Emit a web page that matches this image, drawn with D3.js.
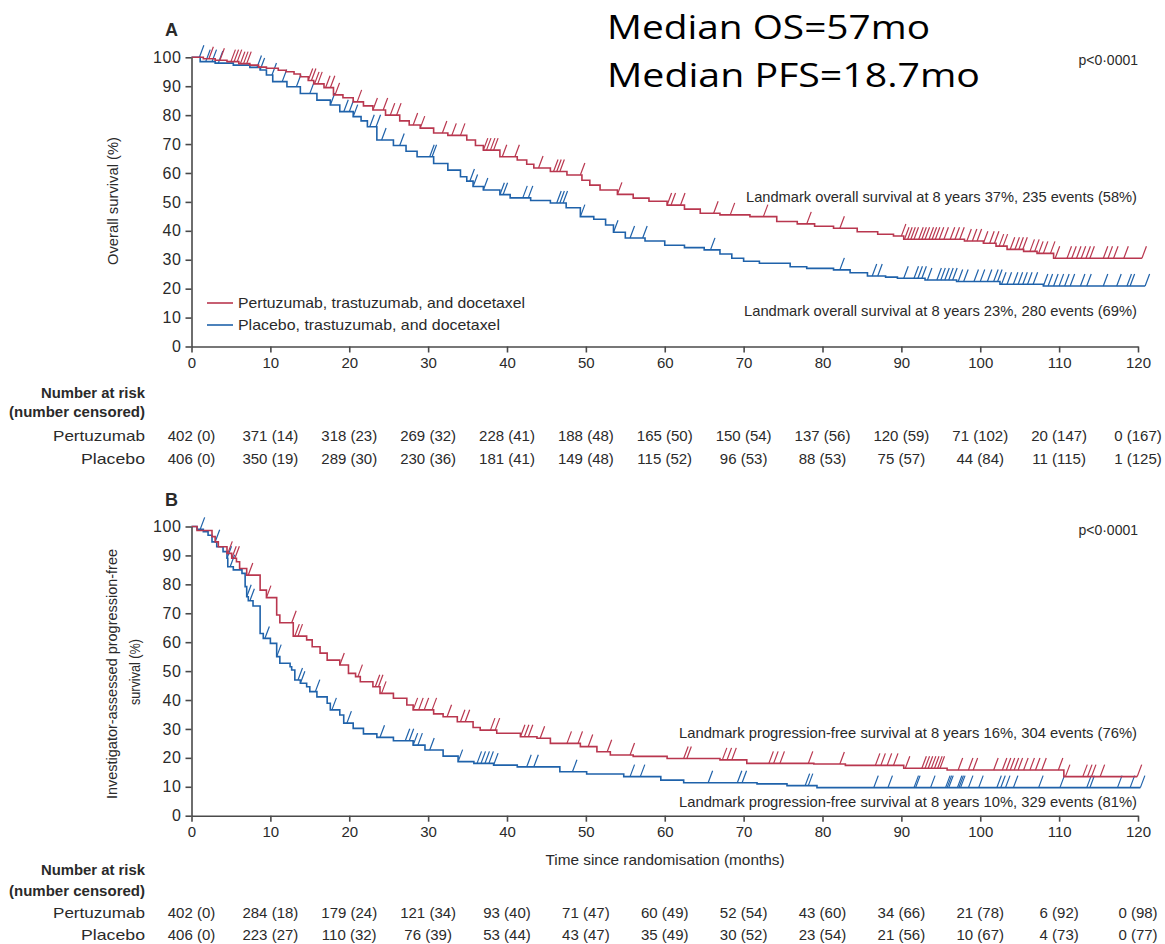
<!DOCTYPE html>
<html>
<head>
<meta charset="utf-8">
<script src="https://cdn.jsdelivr.net/npm/d3@7/dist/d3.min.js"></script>
<style>
  html, body { margin: 0; padding: 0; background: #fff; }
  svg { display: block; }
</style>
</head>
<body>
<svg id="chart" width="1165" height="944"></svg>
<script>
// ---- Data -------------------------------------------------------------
// Kaplan-Meier steps: [month, survival %] (value holds until the next step)
const osPertuzumab = [[0,100],[1.5,99.5],[3,99],[4.5,98.5],[6,97.8],[7.4,97.3],[8.5,96.6],[9.5,96.2],[11,95.5],[12,95],[13,94.2],[13.8,93.3],[14.8,92],[15.5,90.8],[16.8,89.5],[18,87],[19.2,86],[20.5,84.6],[21.8,83.2],[23,81.8],[24.6,80],[26.4,78],[27.6,76.6],[29,75.5],[30.7,73.8],[32.5,73],[34.9,71.4],[36,69.5],[37,67.9],[39.1,65.6],[41.3,64.5],[42.5,63],[43.4,61.7],[45.5,60.5],[47.6,59.3],[49.5,57.5],[50.5,55.8],[51.8,54.1],[54,52.6],[56,51.3],[58,50.2],[60.3,48.9],[62.5,47.5],[64.5,46.1],[67,45.5],[70.8,44.9],[74.2,43.2],[76.8,42.4],[79,41.6],[81.4,40.9],[84.4,39.7],[87,38.8],[89,38.2],[90.3,37.1],[98,36.5],[100.4,35.7],[102,34.7],[103.4,33.6],[105.5,32.9],[107.2,32.2],[109.3,30.5]];
const osPlacebo = [[0,100],[1.1,98.5],[3,98],[5.3,97.3],[7.4,96.5],[8.7,95.6],[9.5,93.9],[10.3,91.6],[12.1,89.8],[13.8,87.5],[15.9,85.2],[17.6,83.5],[18.8,81.2],[20.5,79.5],[21.5,78],[22.3,76],[23.5,71.4],[25.6,69.5],[27.2,67.5],[28.6,65.6],[30.7,63.3],[32.5,61],[34.1,58.7],[34.9,57.2],[35.7,55.3],[37,54.1],[39.1,52.5],[40.4,51.4],[43,50.5],[45.5,49.6],[47.5,48],[49.3,44.9],[51,44],[52.5,42],[53.5,39.5],[55,37.5],[57.5,36.5],[60,35],[62.5,34.2],[65,33.4],[67,32],[68.5,30.5],[70,29.5],[72,28.8],[75.9,27.6],[78,27],[81.4,26.5],[83.5,25.5],[85.7,24.4],[88,24],[89.5,23.6],[93,23],[97,22.5],[102.5,21.5],[108,20.9]];
const pfsPertuzumab = [[0,100],[0.7,98.6],[2.6,96.5],[3,94.7],[3.4,93],[4.5,90.7],[5.1,89],[5.7,87.8],[6.1,85.5],[7,83.2],[8.7,78],[9.5,75.4],[10.8,69.4],[11.2,66.7],[12.9,62.1],[14.6,60.8],[15.3,58.4],[16.3,56.2],[17.2,53.8],[18.8,52.1],[19.9,49.2],[20.8,48.1],[21.4,46.3],[23,44.6],[23.9,42.3],[25.6,40.6],[27.3,38.3],[28.1,36.6],[30.7,35.2],[31.9,34.2],[33.7,32.5],[35.7,30.5],[36.6,29.6],[38.7,28.5],[41.7,27.3],[43.8,26.8],[45.5,25],[49.3,23.9],[51.4,22.1],[53.1,21],[56,20.5],[60.3,19.8],[67,19.3],[70.4,18.1],[78.9,17.9],[82.9,17.4],[90.3,16.4],[95.8,15.8],[110.6,13.5]];
const pfsPlacebo = [[0,100],[0.7,99],[1.5,98.2],[2.1,97],[2.6,94.7],[3.2,93],[4,91.3],[4.5,89],[4.6,86.1],[5.3,85],[6.4,83.8],[6.8,79.2],[7,75.7],[7.2,74.3],[7.8,72.5],[8.7,63],[9.1,61.3],[10,59.6],[10.8,55],[11.2,52.7],[12.5,51.5],[12.7,50.4],[13.1,46.9],[13.8,45.8],[14.6,44.6],[15,42.9],[15.9,41.1],[17.2,38.9],[17.6,36.6],[18.8,34.8],[19.3,32],[20.5,30.2],[21.8,28.3],[23.5,27.1],[25.6,25.9],[28.1,24.4],[29.6,22.7],[31.9,20.6],[33.8,18.7],[35.8,18.1],[38.3,17.5],[41.3,16.9],[46.7,15.2],[50.1,14.4],[54.8,13.5],[59.5,12.3],[62.4,11.4],[71.7,11],[75.5,10.4],[79.3,9.7]];

// Censoring times (months)
const osPertuzumabCensor = [2.2,3.6,5,5.4,5.8,6.2,6.6,7,14.8,15.2,15.6,16,17,17.6,18.2,21,23,24.3,25.2,26,28.1,29,31.8,33,34.1,37,37.4,37.9,38.3,39.4,41,44,45.9,46.3,46.7,49.3,54,60.3,60.8,62,66.2,68.3,72.5,78,82.2,90,90.4,90.8,91.2,91.6,92.2,92.6,93,93.5,93.9,94.3,94.8,95.4,96.2,96.8,97.4,98.3,99,99.6,100.4,101.2,101.8,102.4,102.9,103.8,104.4,104.9,105.4,106.3,106.9,107.4,108,108.9,109.5,111,111.6,112.2,112.8,113.4,113.9,115.6,116.2,116.9,118.2,120.5];
const osPlaceboCensor = [1,1.8,2.6,3.4,8.3,8.7,10.2,11.5,13.3,15,17.6,19.3,20,20.5,22.6,23.4,24.1,26.4,30.2,30.5,35.3,35.7,37,39.1,39.5,42,42.7,46.3,46.7,47.1,49.3,53.5,55.6,57.2,65.8,82.2,86.3,87,90.3,91.6,92.1,92.6,93.3,94.5,95,95.5,96,96.5,97.2,97.9,99.2,100,100.9,101.7,102.2,102.7,103.4,104.2,104.8,105.4,106,106.7,108,108.6,109.3,110,110.7,111.4,112.7,113.5,115.6,117.3,118.6,119,120.9];
const pfsPertuzumabCensor = [4.6,5.1,5.5,7.2,9.5,12.7,13.1,13.5,18.8,21.1,23.3,23.7,24.1,28.1,28.8,29.5,30.5,32.4,34.1,34.7,37.9,38.5,41.7,42.2,42.7,44.2,47.6,49,50.3,52.7,55.6,62.4,62.8,67.3,67.9,68.5,73.2,73.8,74.6,78.2,82.2,86.7,87.4,88.2,89,90.5,92.6,93,93.4,93.8,94.2,94.6,94.9,97.2,98.5,99.1,101.7,102.8,103.3,103.8,104.3,104.8,105.5,106.3,107,107.8,109.9,110.8,113,113.6,114.1,115.2,119.9];
const pfsPlaceboCensor = [1.1,3,4.5,4.9,7,7.4,9.3,10.8,13.5,13.8,15.7,17.8,19.7,23.9,27.1,27.6,28.1,28.7,30.2,33.8,36.2,36.7,37.2,37.7,38.3,42.5,43.4,48.3,55.6,56.9,65.5,69.2,69.8,77.8,78.2,86.5,88.3,91.6,91.8,93.7,95.6,95.8,96,97.1,97.3,97.5,98.5,99.8,102.1,102.6,103.2,104.2,107.4,110.1,113.5,113.9,117.4,119,120.3];

// Axis ticks and risk tables
const xTicks = [0,10,20,30,40,50,60,70,80,90,100,110,120];
const yTicks = [0,10,20,30,40,50,60,70,80,90,100];
const riskGroups = ["Pertuzumab", "Placebo"];
const osRiskPertuzumab = ["402 (0)","371 (14)","318 (23)","269 (32)","228 (41)","188 (48)","165 (50)","150 (54)","137 (56)","120 (59)","71 (102)","20 (147)","0 (167)"];
const osRiskPlacebo = ["406 (0)","350 (19)","289 (30)","230 (36)","181 (41)","149 (48)","115 (52)","96 (53)","88 (53)","75 (57)","44 (84)","11 (115)","1 (125)"];
const pfsRiskPertuzumab = ["402 (0)","284 (18)","179 (24)","121 (34)","93 (40)","71 (47)","60 (49)","52 (54)","43 (60)","34 (66)","21 (78)","6 (92)","0 (98)"];
const pfsRiskPlacebo = ["406 (0)","223 (27)","110 (32)","76 (39)","53 (44)","43 (47)","35 (49)","30 (52)","23 (54)","21 (56)","10 (67)","4 (73)","0 (77)"];

const legendLabels = ["Pertuzumab, trastuzumab, and docetaxel", "Placebo, trastuzumab, and docetaxel"];

// ---- Styling ------------------------------------------------------------
const RED = "#b9374f";
const BLUE = "#1f62aa";
const TEXT = "#2a2a2a";
const AXIS = "#4a4a4a";
const FONT = "'Liberation Sans Narrow','Liberation Sans',Arial,sans-serif";

const svg = d3.select("#chart");
const x = d3.scaleLinear().domain([0, 120]).range([191.5, 1138]);

function survAt(steps, t) {
  let v = steps[0][1];
  for (const s of steps) { if (s[0] <= t) v = s[1]; else break; }
  return v;
}

function fitText(sel, width) {
  sel.attr("textLength", width).attr("lengthAdjust", "spacingAndGlyphs");
}

function drawPanel(opts) {
  const y = d3.scaleLinear().domain([0, 100]).range([opts.y0, opts.y100]);
  const g = svg.append("g");

  // curves
  const line = d3.line().x(d => x(d[0])).y(d => y(d[1])).curve(d3.curveStepAfter);
  opts.series.forEach(s => {
    const tEnd = d3.max(s.censor);
    const pts = s.steps.concat([[tEnd, s.steps[s.steps.length - 1][1]]]);
    g.append("path").attr("d", line(pts))
      .attr("fill", "none").attr("stroke", s.color).attr("stroke-width", 1.6)
      .attr("stroke-linejoin", "miter");
    g.append("g").selectAll("path").data(s.censor).join("path")
      .attr("d", t => {
        const cx = x(t), cy = y(survAt(s.steps, t));
        return `M${cx},${cy}L${cx + 4.5},${cy - 12}`;
      })
      .attr("stroke", s.color).attr("stroke-width", 1.2).attr("fill", "none");
  });

  // axes
  const yAxis = d3.axisLeft(y).tickValues(yTicks).tickSize(6).tickSizeOuter(0).tickPadding(4);
  const ya = g.append("g").attr("transform", `translate(${x(0)},0)`).call(yAxis);
  const xAxis = d3.axisBottom(x).tickValues(xTicks).tickSize(6).tickSizeOuter(0).tickPadding(5);
  const xa = g.append("g").attr("transform", `translate(0,${y(0)})`).call(xAxis);
  [ya, xa].forEach(a => {
    a.selectAll("path, line").attr("stroke", AXIS).attr("stroke-width", 1.6);
    a.selectAll("text").attr("fill", TEXT).attr("font-family", FONT);
  });
  ya.selectAll("text").attr("font-size", 16).attr("letter-spacing", 0.6);
  xa.selectAll("text").attr("font-size", 15);

  // panel letter
  g.append("text").attr("x", 165).attr("y", opts.y100 - 21).text(opts.letter)
    .attr("font-family", FONT).attr("font-weight", "bold").attr("font-size", 18).attr("fill", TEXT);

  // p value
  g.append("text").attr("x", 1138).attr("y", opts.y100 + 8).attr("text-anchor", "end")
    .text("p<0·0001").attr("font-family", FONT).attr("font-size", 14).attr("fill", TEXT);

  // y axis title
  opts.yTitle.forEach((t, i) => {
    g.append("text")
      .attr("transform", `translate(${t.x},${t.cy}) rotate(-90)`)
      .attr("text-anchor", "middle").text(t.text)
      .attr("font-family", FONT).attr("font-size", 15).attr("fill", TEXT)
      .call(fitText, t.w);
  });

  // landmark annotations
  opts.landmarks.forEach(l => {
    g.append("text").attr("x", 1137).attr("y", l.y).attr("text-anchor", "end")
      .text(l.text).attr("font-family", FONT).attr("font-size", 15).attr("fill", TEXT)
      .call(fitText, l.w);
  });

  // risk table
  const rt = g.append("g").attr("font-family", FONT).attr("fill", TEXT).attr("font-size", 15);
  rt.append("text").attr("x", 145).attr("y", opts.riskY[0]).attr("text-anchor", "end")
    .attr("font-weight", "bold").text("Number at risk").call(fitText, 104);
  rt.append("text").attr("x", 145).attr("y", opts.riskY[1]).attr("text-anchor", "end")
    .attr("font-weight", "bold").text("(number censored)").call(fitText, 136);
  opts.risk.forEach((row, i) => {
    const yy = opts.riskY[2 + i];
    rt.append("text").attr("x", 145).attr("y", yy).attr("text-anchor", "end").text(riskGroups[i])
      .call(fitText, i === 0 ? 92 : 64);
    rt.append("g").selectAll("text").data(row).join("text")
      .attr("x", (d, j) => x(xTicks[j])).attr("y", yy).attr("text-anchor", "middle").text(d => d);
  });
  return g;
}

// ---- Panel A: overall survival ----------------------------------------
drawPanel({
  letter: "A", y0: 346.5, y100: 57.3,
  series: [
    { steps: osPlacebo, censor: osPlaceboCensor, color: BLUE },
    { steps: osPertuzumab, censor: osPertuzumabCensor, color: RED }
  ],
  yTitle: [{ text: "Overall survival (%)", x: 118, cy: 201, w: 128 }],
  landmarks: [
    { text: "Landmark overall survival at 8 years 37%, 235 events (58%)", y: 202, w: 391 },
    { text: "Landmark overall survival at 8 years 23%, 280 events (69%)", y: 316, w: 393 }
  ],
  riskY: [398, 417, 441, 464],
  risk: [osRiskPertuzumab, osRiskPlacebo]
});

// ---- Panel B: progression-free survival --------------------------------
drawPanel({
  letter: "B", y0: 815.7, y100: 526.5,
  series: [
    { steps: pfsPlacebo, censor: pfsPlaceboCensor, color: BLUE },
    { steps: pfsPertuzumab, censor: pfsPertuzumabCensor, color: RED }
  ],
  yTitle: [
    { text: "Investigator-assessed progression-free", x: 117, cy: 674, w: 250 },
    { text: "survival (%)", x: 140, cy: 672, w: 66 }
  ],
  landmarks: [
    { text: "Landmark progression-free survival at 8 years 16%, 304 events (76%)", y: 738, w: 458 },
    { text: "Landmark progression-free survival at 8 years 10%, 329 events (81%)", y: 807, w: 458 }
  ],
  riskY: [875, 896, 918, 940],
  risk: [pfsRiskPertuzumab, pfsRiskPlacebo]
});

// x axis title (shared, below panel B)
svg.append("text").attr("x", 665).attr("y", 865).attr("text-anchor", "middle")
  .text("Time since randomisation (months)")
  .attr("font-family", FONT).attr("font-size", 15).attr("fill", TEXT).call(fitText, 239);

// legend (panel A)
const legend = svg.append("g");
legendLabels.forEach((lab, i) => {
  const ly = 303 + i * 22;
  legend.append("line").attr("x1", 207).attr("x2", 233).attr("y1", ly).attr("y2", ly)
    .attr("stroke", i === 0 ? RED : BLUE).attr("stroke-width", 1.6);
  legend.append("text").attr("x", 238).attr("y", ly + 5).text(lab)
    .attr("font-family", FONT).attr("font-size", 15).attr("fill", TEXT)
    .call(fitText, i === 0 ? 287 : 262);
});

// medians header
const medians = ["Median OS=57mo", "Median PFS=18.7mo"];
const medianW = [323, 373];
medians.forEach((m, i) => {
  svg.append("text").attr("x", 607).attr("y", 39 + i * 48).text(m)
    .attr("font-family", "'Open Sans','Noto Sans',sans-serif").attr("font-size", 32).attr("fill", "#000")
    .call(fitText, medianW[i]);
});
</script>
</body>
</html>
